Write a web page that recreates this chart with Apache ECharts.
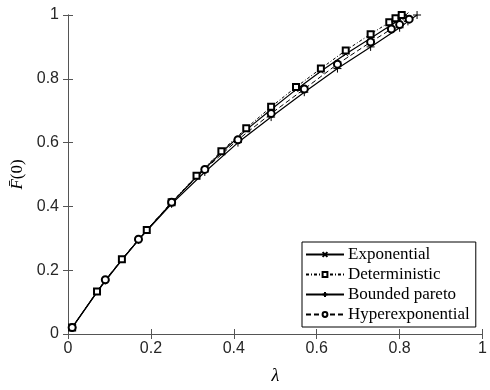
<!DOCTYPE html>
<html>
<head>
<meta charset="utf-8">
<script src="https://cdn.jsdelivr.net/npm/echarts@6/dist/echarts.min.js"></script>
<style>html,body{margin:0;padding:0;background:#fff}#c{width:490px;height:390px}</style>
</head>
<body>
<div id="c"></div>
<script>
var xTicks = [0, 0.2, 0.4, 0.6, 0.8, 1];
var yTicks = [0, 0.2, 0.4, 0.6, 0.8, 1];

var detX = [0.01, 0.07, 0.13, 0.19, 0.25, 0.31, 0.37, 0.43, 0.49, 0.55, 0.61, 0.67, 0.73, 0.775, 0.79, 0.805];
var detY = [0.02, 0.133, 0.234, 0.326, 0.413, 0.496, 0.573, 0.645, 0.712, 0.774, 0.832, 0.889, 0.940, 0.977, 0.990, 1.0];

var expX = [0.01, 0.07, 0.13, 0.19, 0.25, 0.31, 0.37, 0.43, 0.49, 0.55, 0.61, 0.67, 0.73, 0.775, 0.79, 0.805, 0.815];
var expY = [0.02, 0.132, 0.233, 0.325, 0.411, 0.493, 0.569, 0.640, 0.704, 0.766, 0.824, 0.878, 0.927, 0.965, 0.978, 0.99, 1.0];

var bpX = [0.01, 0.09, 0.17, 0.25, 0.33, 0.41, 0.49, 0.57, 0.65, 0.73, 0.80, 0.82, 0.842];
var bpY = [0.02, 0.168, 0.295, 0.408, 0.508, 0.600, 0.680, 0.758, 0.832, 0.900, 0.960, 0.980, 1.0];

var hypX = [0.01, 0.09, 0.17, 0.25, 0.33, 0.41, 0.49, 0.57, 0.65, 0.73, 0.78, 0.80, 0.823];
var hypY = [0.02, 0.170, 0.297, 0.413, 0.516, 0.609, 0.691, 0.768, 0.846, 0.915, 0.956, 0.970, 0.987];

function pairs(xs, ys){ return xs.map(function(x,i){ return [x, ys[i]]; }); }

var axisCol = '#262626';
var chart = echarts.init(document.getElementById('c'));
var common = {min:0, max:1, interval:0.2, splitLine:{show:false},
  axisLine:{show:true, lineStyle:{color:'#555', width:1}},
  axisTick:{show:true, inside:true, length:5, lineStyle:{color:'#555'}}};
function ax(extra){ return Object.assign({}, JSON.parse(JSON.stringify(common)), extra); }

var xSym = 'path://M0,0L10,10M10,0L0,10';
var pSym = 'path://M5,0L5,10M0,5L10,5';
var fmt = function(v){ return String(Math.round(v*10)/10); };

chart.setOption({
  animation:false,
  backgroundColor:'#fff',
  grid:{left:68, right:1, top:15, bottom:51},
  xAxis:[
    ax({type:'value', position:'bottom', name:'λ', nameLocation:'middle', nameGap:33,
      nameTextStyle:{fontFamily:'Liberation Serif', fontStyle:'italic', fontSize:18, color:'#000'},
      axisLabel:{color:axisCol, fontSize:16, fontFamily:'Liberation Sans', margin:7, formatter:fmt}}),
    ax({type:'value', position:'top', axisLabel:{show:false}})
  ],
  yAxis:[
    ax({type:'value', position:'left', name:'{i|F\u0304}(0)', nameLocation:'middle', nameGap:41, nameRotate:90,
      nameTextStyle:{fontFamily:'Liberation Serif', fontSize:17, color:'#000',
        rich:{i:{fontFamily:'Liberation Serif', fontStyle:'italic', fontSize:17, color:'#000'}}},
      axisLabel:{color:axisCol, fontSize:16, fontFamily:'Liberation Sans', margin:9, formatter:fmt}}),
    ax({type:'value', position:'right', axisLabel:{show:false}})
  ],
  legend:{
    orient:'vertical', left:302, top:242, itemWidth:38, itemHeight:6, itemGap:3,
    backgroundColor:'#fff', borderColor:'#000', borderWidth:1, borderRadius:0, padding:[4,6,4,3],
    textStyle:{fontFamily:'Liberation Serif', fontSize:17, color:'#000', padding:[0,0,0,-1]},
    data:['Exponential','Deterministic','Bounded pareto','Hyperexponential']
  },
  series:[
    {name:'Exponential', type:'line', data:pairs(expX, expY), symbol:xSym, symbolSize:5,
      lineStyle:{color:'#000', width:1.2, type:'solid'},
      itemStyle:{color:'#000', borderColor:'#000', borderWidth:1}},
    {name:'Deterministic', type:'line', data:pairs(detX, detY), symbol:'emptyRect', symbolSize:6,
      lineStyle:{color:'#000', width:1, type:[3,2,1,2]},
      itemStyle:{color:'#000', borderColor:'#000', borderWidth:1}},
    {name:'Bounded pareto', type:'line', data:pairs(bpX, bpY), symbol:pSym, symbolSize:8,
      lineStyle:{color:'#000', width:1.2, type:'solid'},
      itemStyle:{color:'#000', borderColor:'#000', borderWidth:1}},
    {name:'Hyperexponential', type:'line', data:pairs(hypX, hypY), symbol:'emptyCircle', symbolSize:7,
      lineStyle:{color:'#000', width:1, type:[5,3]},
      itemStyle:{color:'#000', borderColor:'#000', borderWidth:1}}
  ]
});
</script>
</body>
</html>
